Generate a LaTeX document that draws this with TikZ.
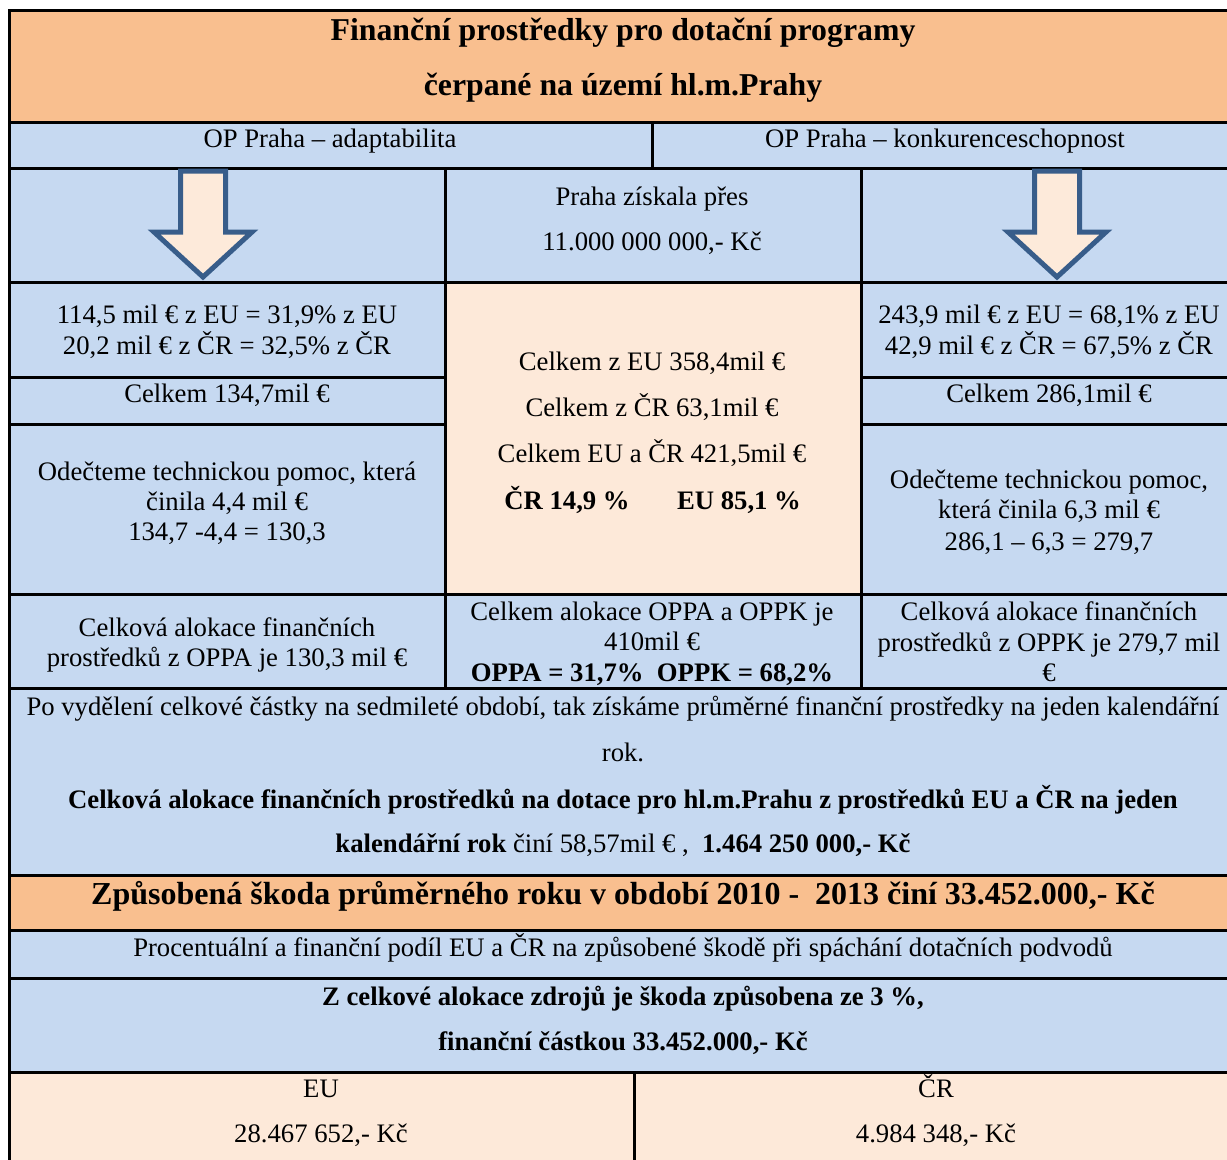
\documentclass[tikz,border=0pt]{standalone}
\usepackage{fontspec}
\setmainfont{Liberation Serif}
\definecolor{orng}{HTML}{F9BF8F}
\definecolor{blu}{HTML}{C6D9F1}
\definecolor{pch}{HTML}{FDE9D9}
\definecolor{arrfill}{HTML}{FDEADA}
\definecolor{arrline}{HTML}{385D8A}
\tikzset{
  base/.style={inner sep=0pt, anchor=center, yshift=-7pt, text height=0.7em, text depth=0.22em},
  txt/.style={base, font=\fontsize{26.7}{31}\selectfont},
  txtb/.style={base, font=\fontsize{26.7}{31}\selectfont\bfseries},
  ttl/.style={base, font=\fontsize{31.8}{36}\selectfont\bfseries},
  ttlbig/.style={base, font=\fontsize{32}{36}\selectfont\bfseries},
  grid/.style={line width=3pt, black},
  bigarrow/.style={line width=5pt, draw=arrline, fill=arrfill, line join=miter}
}
\begin{document}
\begin{tikzpicture}[x=1pt,y=-1pt]
\useasboundingbox (0,0) rectangle (1227,1160);
\clip (0,0) rectangle (1227,1160);
% fills
\fill[white] (0,0) rectangle (1227,1160);
\fill[orng] (9,10) rectangle (1240,122);
\fill[blu] (9,122) rectangle (1240,875);
\fill[pch] (445,282) rectangle (861,594);
\fill[orng] (9,875) rectangle (1240,930);
\fill[blu] (9,930) rectangle (1240,1072);
\fill[pch] (9,1072) rectangle (1240,1170);
% grid lines
\draw[grid] (9,1170) -- (9,10) -- (1240,10);
\draw[grid] (9,122) -- (1240,122);
\draw[grid] (9,168) -- (1240,168);
\draw[grid] (652,122) -- (652,168);
\draw[grid] (445,168) -- (445,688);
\draw[grid] (861,168) -- (861,688);
\draw[grid] (9,282) -- (1240,282);
\draw[grid] (9,377) -- (445,377);
\draw[grid] (861,377) -- (1240,377);
\draw[grid] (9,424) -- (445,424);
\draw[grid] (861,424) -- (1240,424);
\draw[grid] (9,594) -- (1240,594);
\draw[grid] (9,688) -- (1240,688);
\draw[grid] (9,875) -- (1240,875);
\draw[grid] (9,930) -- (1240,930);
\draw[grid] (9,978) -- (1240,978);
\draw[grid] (9,1072) -- (1240,1072);
\draw[grid] (634,1072) -- (634,1170);
% arrows
\draw[bigarrow] (180.5,171) -- (225.5,171) -- (225.5,232) -- (252,232) -- (203,277) -- (154,232) -- (180.5,232) -- cycle;
\draw[bigarrow] (1034.5,171) -- (1079.5,171) -- (1079.5,232) -- (1106,232) -- (1057,277) -- (1008,232) -- (1034.5,232) -- cycle;
% title
\node[ttl] (t1) at (623,31) {Finanční prostředky pro dotační programy};
\node[ttl] (t2) at (623,86) {čerpané na území hl.m.Prahy};
\node[txt] (opa) at (330,138) {OP Praha – adaptabilita};
\node[txt] (opk) at (945,138) {OP Praha – konkurenceschopnost};
% middle top
\node[txt] (m1) at (652,196) {Praha získala přes};
\node[txt] (m2) at (652,241) {11.000 000 000,- Kč};
% left column
\node[txt] (l1) at (227,314) {114,5 mil € z EU = 31,9\% z EU};
\node[txt] (l2) at (227,345) {20,2 mil € z ČR = 32,5\% z ČR};
\node[txt] (l3) at (227,393) {Celkem 134,7mil €};
\node[txt] (l4) at (227,471) {Odečteme technickou pomoc, která};
\node[txt] (l5) at (227,501) {činila 4,4 mil €};
\node[txt] (l6) at (227,531) {134,7 -4,4 = 130,3};
\node[txt] (l7) at (227,627) {Celková alokace finančních};
\node[txt] (l8) at (227,657) {prostředků z OPPA je 130,3 mil €};
% middle column
\node[txt] (c1) at (652,361) {Celkem z EU 358,4mil €};
\node[txt] (c2) at (652,407) {Celkem z ČR 63,1mil €};
\node[txt] (c3) at (652,453) {Celkem EU a ČR 421,5mil €};
\node[txtb] (c4a) at (567,500) {ČR 14,9 \%};
\node[txtb] (c4b) at (739,500) {EU 85,1 \%};
\node[txt] (c5) at (652,611) {Celkem alokace OPPA a OPPK je};
\node[txt] (c6) at (652,641) {410mil €};
\node[txtb] (c7) at (652,672) {OPPA = 31,7\%\ \ OPPK = 68,2\%};
% right column
\node[txt] (r1) at (1049,314) {243,9 mil € z EU = 68,1\% z EU};
\node[txt] (r2) at (1049,345) {42,9 mil € z ČR = 67,5\% z ČR};
\node[txt] (r3) at (1049,393) {Celkem 286,1mil €};
\node[txt] (r4) at (1049,479) {Odečteme technickou pomoc,};
\node[txt] (r5) at (1049,509) {která činila 6,3 mil €};
\node[txt] (r6) at (1049,541) {286,1 – 6,3 = 279,7};
\node[txt] (r7) at (1049,611) {Celková alokace finančních};
\node[txt] (r8) at (1049,642) {prostředků z OPPK je 279,7 mil};
\node[txt] (r9) at (1049,672) {€};
% paragraph
\node[txt] (p1) at (623,706) {Po vydělení celkové částky na sedmileté období, tak získáme průměrné finanční prostředky na jeden kalendářní};
\node[txt] (p2) at (623,752) {rok.};
\node[txtb] (p3) at (623,799) {Celková alokace finančních prostředků na dotace pro hl.m.Prahu z prostředků EU a ČR na jeden};
\node[txt] (p4) at (623,843) {\textbf{kalendářní rok} činí 58,57mil € ,\ \ \textbf{1.464 250 000,- Kč}};
% damage
\node[ttlbig] (d1) at (623,895) {Způsobená škoda průměrného roku v období 2010 -\ \ 2013 činí 33.452.000,- Kč};
\node[txt] (d2) at (623,947) {Procentuální a finanční podíl EU a ČR na způsobené škodě při spáchání dotačních podvodů};
\node[txtb] (d3) at (623,996) {Z celkové alokace zdrojů je škoda způsobena ze 3 \%,};
\node[txtb] (d4) at (623,1041) {finanční částkou 33.452.000,- Kč};
% bottom
\node[txt] (b1) at (321,1088) {EU};
\node[txt] (b2) at (321,1133) {28.467 652,- Kč};
\node[txt] (b3) at (936,1088) {ČR};
\node[txt] (b4) at (936,1133) {4.984 348,- Kč};
\end{tikzpicture}
\end{document}
